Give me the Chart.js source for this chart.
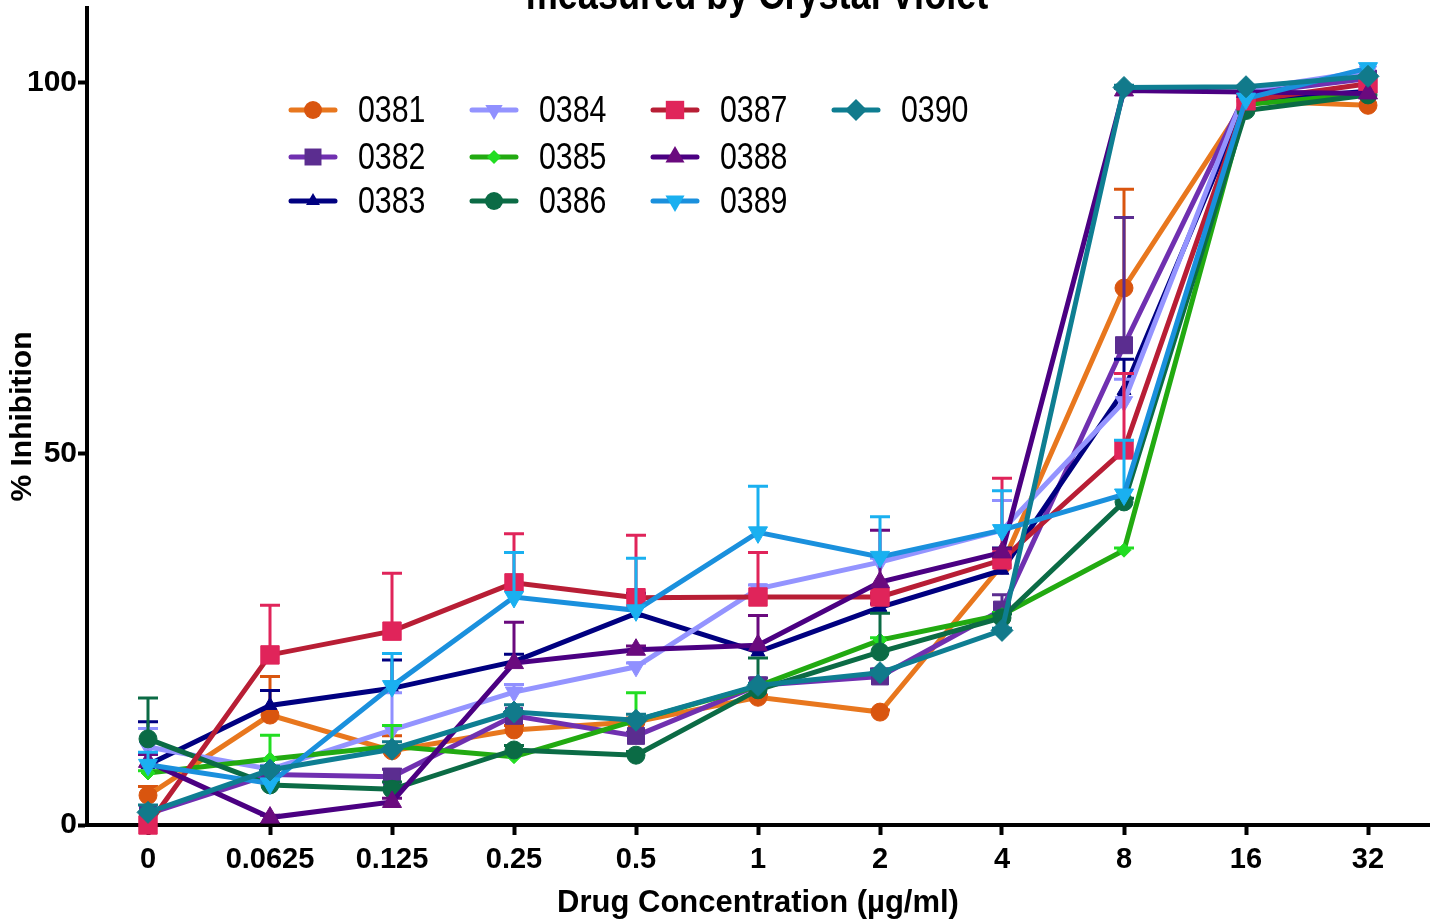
<!DOCTYPE html>
<html>
<head>
<meta charset="utf-8">
<script src="https://cdn.jsdelivr.net/npm/chart.js@4.4.1/dist/chart.umd.min.js"></script>
<style>
  html, body { margin: 0; padding: 0; background: #fff; }
  #wrap { width: 1437px; height: 920px; }
</style>
</head>
<body>
<div id="wrap"><canvas id="cvChart" width="1437" height="920"></canvas></div>
<script>
//// Data
const concentrations = ["0", "0.0625", "0.125", "0.25", "0.5", "1", "2", "4", "8", "16", "32"];
const yTicks = [0, 50, 100];
const strains = ["0381", "0382", "0383", "0384", "0385", "0386", "0387", "0388", "0389", "0390"];

// mean % inhibition per strain
const v0381 = [4.0, 14.8, 10.0, 12.8, 13.9, 17.2, 15.2, 35.0, 72.3, 97.5, 96.9];
const v0382 = [1.5, 6.8, 6.5, 14.7, 12.0, 18.8, 20.0, 29.0, 64.6, 98.5, 100.5];
const v0383 = [8.1, 16.1, 18.4, 22.0, 28.5, 23.3, 29.3, 34.3, 58.5, 97.5, 98.8];
const v0384 = [10.5, 7.5, 12.8, 17.9, 21.3, 31.8, 35.4, 39.7, 57.0, 99.0, 101.5];
const v0385 = [7.0, 8.9, 10.6, 9.2, 14.1, 18.7, 24.9, 28.3, 37.0, 97.0, 98.5];
const v0386 = [11.6, 5.4, 4.8, 10.1, 9.4, 18.2, 23.3, 27.9, 43.5, 96.2, 98.3];
const v0387 = [0.0, 22.9, 26.1, 32.6, 30.6, 30.7, 30.7, 35.7, 50.5, 97.5, 99.8];
const v0388 = [8.5, 1.0, 3.1, 21.8, 23.6, 24.2, 32.7, 36.7, 98.9, 98.7, 98.5];
const v0389 = [8.1, 5.6, 18.7, 30.7, 28.9, 39.4, 36.1, 39.7, 44.5, 97.8, 101.9];
const v0390 = [1.7, 7.4, 10.2, 15.2, 14.1, 18.8, 20.5, 26.2, 99.3, 99.4, 100.8];

// upper error (SD) per strain
const e0381 = [1.2, 5.2, 2.0, 0.6, 0.5, 0.3, 0.3, 1.0, 13.3, 0, 0];
const e0382 = [0, 0.5, 1.0, 0.5, 0.5, 1.0, 1.0, 2.0, 17.2, 0, 0];
const e0383 = [5.8, 2.0, 3.8, 1.0, 2.7, 0.5, 0.5, 3.0, 4.2, 0, 0];
const e0384 = [2.5, 0.5, 5.0, 1.0, 0.5, 0.5, 0.5, 4.0, 3.0, 0, 0];
const e0385 = [0.3, 3.2, 2.8, 0.3, 3.7, 0.3, 0.3, 0.3, 0.3, 0, 0];
const e0386 = [5.5, 0.5, 1.0, 0.6, 0.5, 4.3, 5.2, 0.5, 0.5, 0, 0];
const e0387 = [0, 6.7, 7.8, 6.6, 8.4, 6.0, 0.5, 11.0, 10.3, 0, 0];
const e0388 = [1.0, 0.3, 0.5, 5.5, 0.5, 4.0, 7.0, 0.5, 0.3, 0, 0];
const e0389 = [1.7, 0.5, 4.4, 6.0, 7.0, 6.2, 5.4, 5.3, 7.3, 0, 0];
const e0390 = [1.0, 0.5, 1.0, 1.0, 0.8, 0.3, 0.3, 0.3, 0.3, 0, 0];

const means = [v0381, v0382, v0383, v0384, v0385, v0386, v0387, v0388, v0389, v0390];
const errs = [e0381, e0382, e0383, e0384, e0385, e0386, e0387, e0388, e0389, e0390];

//// Styles (line colour, marker colour, marker shape)
const looks = [
  { line: "#E8771E", mark: "#D9550F", shape: "circle", r: 9, rot: 0 },
  { line: "#7030B0", mark: "#5B2D90", shape: "rect", r: 12, rot: 0 },
  { line: "#000080", mark: "#000080", shape: "triangle", r: 8, rot: 0 },
  { line: "#9494FF", mark: "#9090FF", shape: "triangle", r: 10, rot: 180 },
  { line: "#22AA11", mark: "#22DD22", shape: "rectRot", r: 7, rot: 0 },
  { line: "#0B6B45", mark: "#0B6B45", shape: "circle", r: 9, rot: 0 },
  { line: "#B81E35", mark: "#E0245A", shape: "rect", r: 13, rot: 0 },
  { line: "#4B0082", mark: "#6A0A7E", shape: "triangle", r: 11, rot: 0 },
  { line: "#1A90DD", mark: "#1AB0F0", shape: "triangle", r: 11, rot: 180 },
  { line: "#0E7E92", mark: "#117A8B", shape: "rectRot", r: 11, rot: 0 },
];

const BOLD = "'Liberation Sans', Arial, sans-serif";
const SQUEEZE = 0.82; // no narrow font here, so text is squeezed by hand

const datasets = strains.map((name, i) => ({
  label: name,
  data: means[i],
  borderColor: looks[i].line,
  backgroundColor: looks[i].mark,
  borderWidth: 5,
  pointStyle: looks[i].shape,
  pointRadius: looks[i].r,
  pointRotation: looks[i].rot,
  pointBackgroundColor: looks[i].mark,
  pointBorderColor: looks[i].mark,
  pointBorderWidth: 1,
  tension: 0,
  clip: false,
  order: strains.length - 1 - i, // later strains drawn on top
}));

//// Error bars (upper only), drawn under each series
const errorBars = {
  id: "errorBars",
  beforeDatasetDraw(chart, args) {
    const i = args.index;
    const e = errs[i];
    if (!e) return;
    const { ctx } = chart;
    const xs = chart.scales.x, ys = chart.scales.y;
    ctx.save();
    ctx.strokeStyle = looks[i].mark;
    ctx.lineWidth = 3;
    means[i].forEach((v, k) => {
      if (!e[k]) return;
      const x = xs.getPixelForValue(k);
      const y0 = ys.getPixelForValue(v);
      const y1 = ys.getPixelForValue(v + e[k]);
      ctx.beginPath();
      ctx.moveTo(x, y0);
      ctx.lineTo(x, y1);
      ctx.moveTo(x - 10, y1);
      ctx.lineTo(x + 10, y1);
      ctx.stroke();
    });
    ctx.restore();
  },
};

function drawMarker(ctx, look, x, y) {
  const r = look.r;
  ctx.beginPath();
  if (look.shape === "circle") {
    ctx.arc(x, y, r, 0, Math.PI * 2);
  } else if (look.shape === "rect") {
    const s = r * Math.SQRT1_2;
    ctx.rect(x - s, y - s, 2 * s, 2 * s);
  } else if (look.shape === "rectRot") {
    ctx.moveTo(x, y - r); ctx.lineTo(x + r, y); ctx.lineTo(x, y + r); ctx.lineTo(x - r, y);
    ctx.closePath();
  } else {
    const d = look.rot ? -1 : 1;
    ctx.moveTo(x, y - d * r);
    ctx.lineTo(x + r * 0.866, y + d * r * 0.5);
    ctx.lineTo(x - r * 0.866, y + d * r * 0.5);
    ctx.closePath();
  }
  ctx.fill();
}

function narrowText(ctx, text, x, y) {
  ctx.save();
  ctx.translate(x, y);
  ctx.scale(SQUEEZE, 1);
  ctx.fillText(text, 0, 0);
  ctx.restore();
}

//// Legend inside plot (4 columns x 3 rows) + clipped title
const legendIn = {
  id: "legendIn",
  afterDraw(chart) {
    const { ctx } = chart;
    ctx.save();
    strains.forEach((name, i) => {
      const col = Math.floor(i / 3), row = i % 3;
      const x0 = 291 + col * 181;
      const y = [110, 157, 201][row];
      ctx.strokeStyle = looks[i].line;
      ctx.lineWidth = 5;
      ctx.lineCap = "round";
      ctx.beginPath();
      ctx.moveTo(x0, y);
      ctx.lineTo(x0 + 44, y);
      ctx.stroke();
      ctx.fillStyle = looks[i].mark;
      drawMarker(ctx, looks[i], x0 + 22, y);
      ctx.fillStyle = "#000";
      ctx.font = "37px " + BOLD;
      ctx.textBaseline = "middle";
      ctx.textAlign = "left";
      narrowText(ctx, name, x0 + 67, y + 2);
    });
    // title sits mostly above the canvas
    ctx.font = "bold 44px " + BOLD;
    ctx.textAlign = "center";
    ctx.textBaseline = "alphabetic";
    ctx.fillStyle = "#000";
    narrowText(ctx, "measured by Crystal Violet", 757, 9);
    ctx.restore();
  },
};

new Chart(document.getElementById("cvChart"), {
  type: "line",
  data: { labels: concentrations, datasets: datasets },
  plugins: [errorBars, legendIn],
  options: {
    responsive: false,
    animation: false,
    devicePixelRatio: 1,
    layout: { autoPadding: false, padding: { top: 8, right: 8, left: 0, bottom: 0 } },
    plugins: { legend: { display: false }, tooltip: { enabled: false } },
    scales: {
      x: {
        offset: true,
        grid: { drawOnChartArea: false, drawTicks: true, tickLength: 10, tickWidth: 4, tickColor: "#000", offset: false },
        border: { display: true, width: 4, color: "#000" },
        ticks: { color: "#000", font: { family: BOLD, size: 29, weight: "bold" }, padding: 8, maxRotation: 0, autoSkip: false },
        title: { display: true, text: "Drug Concentration (µg/ml)", color: "#000", font: { family: BOLD, size: 31, weight: "bold" }, padding: { top: 0, bottom: -2 } },
        afterFit(scale) { scale.height = 95; },
      },
      y: {
        min: 0,
        max: 110,
        afterBuildTicks(scale) { scale.ticks = yTicks.map(v => ({ value: v })); },
        grid: { drawOnChartArea: false, drawTicks: true, tickLength: 9, tickWidth: 4, tickColor: "#000" },
        border: { display: true, width: 4, color: "#000" },
        ticks: { color: "#000", font: { family: BOLD, size: 30, weight: "bold" }, padding: 1 },
        title: { display: true, text: "% Inhibition", color: "#000", font: { family: BOLD, size: 30, weight: "bold" }, padding: { top: 5, bottom: 0 } },
        afterFit(scale) {
          scale.width = 87;
          // no label overhang at the top; the axis runs to the canvas edge
          scale.paddingTop = 0;
          scale.paddingBottom = 0;
        },
      },
    },
  },
});
</script>
</body>
</html>
